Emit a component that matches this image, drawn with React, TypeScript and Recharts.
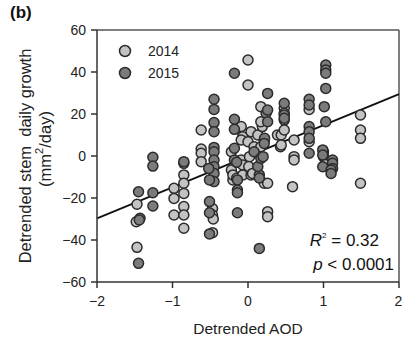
import React from "react";
import {
  ScatterChart,
  Scatter,
  XAxis,
  YAxis,
  ReferenceLine,
  Label,
} from "recharts";

// ---- data ----
const aod2014 = [
  -1.47, -1.48, -1.47,
  -0.98, -0.98, -0.98,
  -0.85, -0.85, -0.85, -0.85, -0.85, -0.85, -0.85,
  -0.62, -0.62, -0.62, -0.62,
  -0.47, -0.47, -0.46, -0.47,
  -0.22, -0.22, -0.2, -0.2,
  -0.15, -0.15,
  -0.09, -0.07, -0.09, -0.09, -0.07, -0.07,
  0, 0, 0, 0.04, 0.04, 0.02, 0.01,
  0.06, 0.08, 0.1, 0.13, 0.17, 0.19,
  0.17, 0.17, 0.215, 0.26,
  0.26, 0.26,
  0.39, 0.43, 0.44, 0.44,
  0.48, 0.48, 0.48, 0.48,
  0.59, 0.61, 0.61, 0.61,
  0.81, 0.81,
  1.0, 1.0, 1.02,
  1.49, 1.49, 1.49, 1.49,
];
const growth2014 = [
  -23, -31.3, -43.5,
  -15.4, -20.2, -28.1,
  -3.5, -9, -13, -17.8, -24.1, -28.1, -34.4,
  12.4, 3.3, 1.3, -2.7,
  -25, -28.1, -30, -36.5,
  2, -6.7, -11.4, -9,
  -10.6, -3,
  14, 9.2, 7.6, -1.9, -4.3, -9,
  45.7, 33.8, 6.8, 11.6, -9, -0.3, -5,
  -8.3, 4.4, 2, 10, 4.4, 14,
  23.5, 16.3, -13, -13,
  -26.5, -28.9,
  10, 4.4, 10, 5.2,
  22.7, 17.1, 12.4, 20.3,
  -14.6, 7.6, -0.3, -1.9,
  22.2, 6.8,
  2, -0.3, -4,
  19.5, 12.4, 8.4, -13,
];

const aod2015 = [
  -1.45, -1.45, -1.43, -1.44,
  -1.26, -1.26, -1.26, -1.26,
  -0.85,
  -0.45, -0.45, -0.45, -0.45, -0.45, -0.45, -0.45, -0.45, -0.45, -0.45,
  -0.52, -0.51, -0.51, -0.51, -0.51,
  -0.18, -0.18, -0.18, -0.18, -0.18,
  -0.14, -0.14, -0.14, -0.14, -0.15,
  0.15, 0.15, 0.08, 0.13, 0.17,
  0.215, 0.22, 0.215, 0.2, 0.15,
  0.24, 0.26, 0.26, 0.26,
  0.48, 0.48, 0.48,
  0.81, 0.81, 0.81, 0.81, 0.81, 0.81,
  0.99, 0.99, 0.99,
  1.01,
  1.03, 1.03, 1.03, 1.03, 1.03,
  1.12, 1.12, 1.12, 1.1, 1.1,
];
const growth2015 = [
  -17, -51.1, -29.7, -30.5,
  -0.6, -4.8, -17.5, -23.8,
  -2.7,
  27, 22.2, 15.9, 11.6, 4.1, 2, -1.9, -5.1, -8.3, -12.2,
  -5.9, -11.4, -21.7, -27, -37.1,
  39.4, 17.5, 12.7, 3.7, -1.9,
  -16.2, -27, -11.4, -17.5, -3,
  -9, -44, 2, -5, -1.1,
  7.6, 8.4, 6, -0.3, -10.5,
  20.3, 29.8, 21.9, 16.3,
  25.1, 19.5, 18,
  27, 24.3, 14, 11.6, 8.4, 1.3,
  2.9, 0.5, -5.1,
  23.5,
  43.3, 41, 39.4, 32.2, 16.3,
  -1.9, -3.5, -5.9, -6.7, -8.3,
];

const xTicks = [-2, -1, 0, 1, 2];
const yTicks = [-60, -40, -20, 0, 20, 40, 60];
const seriesNames = ["2014", "2015"];
const fitStart = { x: -2, y: -29.7 };
const fitEnd = { x: 2, y: 29.5 };
const r2Text = "0.32";
const pText = "0.0001";

const data2014 = aod2014.map((x, i) => ({ x, y: growth2014[i] }));
const data2015 = aod2015.map((x, i) => ({ x, y: growth2015[i] }));

const LIGHT = "#c3c3c3";
const DARK = "#7b7b7b";
const EDGE = "#2b2b2b";
const FONT = "'Liberation Sans', Arial, sans-serif";

const makeDot = (fill: string) => (props: any) => {
  const { cx, cy } = props;
  if (cx == null || cy == null) return <g />;
  return (
    <circle cx={cx} cy={cy} r={5} fill={fill} stroke={EDGE} strokeWidth={1.5} />
  );
};

const fmt = (v: number) => String(v).replace("-", "\u2212");

const YLabel = (props: any) => {
  const vb = props.viewBox || {};
  const cy = (vb.y ?? 30) + (vb.height ?? 252) / 2;
  return (
    <g fontFamily={FONT} fill="#222">
      <text x={25} y={cy} transform={`rotate(-90, 25, ${cy})`} textAnchor="middle" dominantBaseline="central" fontSize={16.5}>
        Detrended stem{"\u00a0\u00a0"}daily growth
      </text>
      <text x={45} y={cy - 7} transform={`rotate(-90, 45, ${cy - 7})`} textAnchor="middle" dominantBaseline="central" fontSize={16.5}>
        (mm<tspan dy={-6} fontSize={11}>2</tspan>
        <tspan dy={6}>/day)</tspan>
      </text>
    </g>
  );
};

export default function App() {
  return (
    <div style={{ position: "absolute", left: 0, top: 0, width: 402, height: 338, background: "#fff" }}>
      <ScatterChart
        width={402}
        height={338}
        margin={{ top: 30, right: 3, bottom: 0, left: 0 }}
        style={{ fontFamily: FONT }}
      >
        <XAxis
          type="number"
          dataKey="x"
          domain={[-2, 2]}
          ticks={xTicks}
          tickFormatter={fmt}
          height={56}
          tickSize={6}
          tickMargin={8}
          stroke="#333"
          strokeWidth={1.5}
          tick={{ fill: "#222", fontSize: 14 }}
          allowDataOverflow
        >
          <Label value="Detrended AOD" position="insideBottom" offset={4} fill="#222" fontSize={15.5} />
        </XAxis>
        <YAxis
          type="number"
          dataKey="y"
          domain={[-60, 60]}
          ticks={yTicks}
          tickFormatter={fmt}
          width={97}
          tickSize={6}
          tickMargin={5}
          stroke="#333"
          strokeWidth={1.5}
          tick={{ fill: "#222", fontSize: 14 }}
          allowDataOverflow
        >
          <Label content={<YLabel />} />
        </YAxis>
        <ReferenceLine y={60} stroke="#555" strokeWidth={1.5} />
        <ReferenceLine x={2} stroke="#555" strokeWidth={1.5} />
        <Scatter name={seriesNames[0]} data={data2014} isAnimationActive={false} shape={makeDot(LIGHT)} />
        <Scatter name={seriesNames[1]} data={data2015} isAnimationActive={false} shape={makeDot(DARK)} />
        <ReferenceLine segment={[fitStart, fitEnd]} stroke="#111" strokeWidth={1.8} />
      </ScatterChart>
      <div
        style={{
          position: "absolute",
          left: 118,
          top: 40,
          fontFamily: FONT,
          fontSize: 14,
          color: "#222",
        }}
      >
        {seriesNames.map((n, i) => (
          <div key={n} style={{ display: "flex", alignItems: "center", height: 22 }}>
            <svg width={14} height={14} style={{ marginRight: 16 }}>
              <circle cx={7} cy={7} r={5.5} fill={i === 0 ? LIGHT : DARK} stroke={EDGE} strokeWidth={1.5} />
            </svg>
            <span>{n}</span>
          </div>
        ))}
      </div>
      <div
        style={{
          position: "absolute",
          left: 10,
          top: 3,
          fontFamily: FONT,
          fontWeight: "bold",
          fontSize: 17,
          color: "#111",
        }}
      >
        (b)
      </div>
      <div
        style={{
          position: "absolute",
          right: 8,
          top: 230,
          fontFamily: FONT,
          fontSize: 17,
          color: "#111",
          textAlign: "right",
          lineHeight: "21px",
        }}
      >
        <div style={{ marginRight: 15 }}>
          <i>R</i>
          <span style={{ fontSize: 8, position: "relative", top: -8 }}>2</span> = {r2Text}
        </div>
        <div>
          <i>p</i> &lt; {pText}
        </div>
      </div>
    </div>
  );
}
